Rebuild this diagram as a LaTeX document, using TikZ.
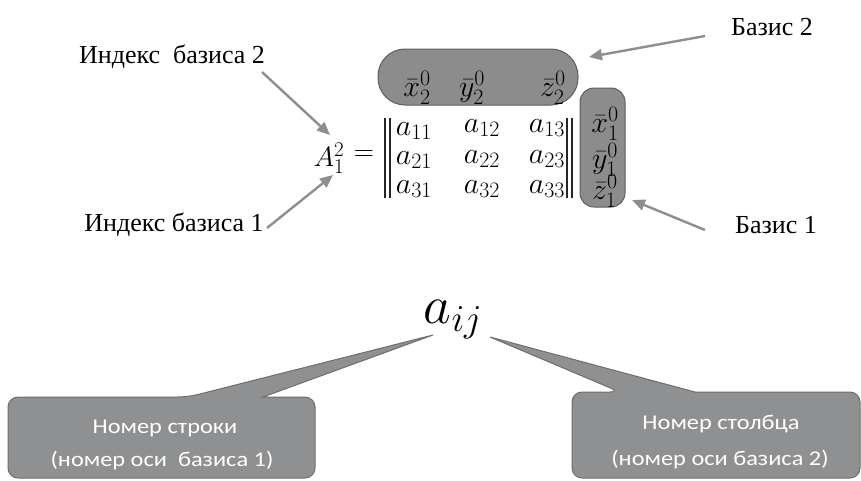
\RequirePackage{fix-cm}
\documentclass[tikz,border=0pt]{standalone}
\usepackage{fontspec}
\usepackage{graphicx}
\setmainfont{Liberation Serif}
\newfontfamily\callfont{Carlito}
\DeclareMathSizes{28}{28}{21}{16}
\DeclareMathSizes{30}{30}{22}{17}
\DeclareMathSizes{54}{54}{38}{28}
\usetikzlibrary{arrows.meta}
\definecolor{arrowgray}{HTML}{8E8E8E}
\definecolor{shapegray}{HTML}{8C8C8C}
\definecolor{shapeborder}{HTML}{5E5E5E}
\definecolor{callgray}{HTML}{8F9092}
\definecolor{callborder}{HTML}{6E6E6E}
\tikzset{
  lbl/.style={font=\fontsize{26}{28}\selectfont, inner sep=0pt},
  mth/.style={font=\fontsize{30}{32}\selectfont, inner sep=0pt},
  mthA/.style={font=\fontsize{28}{30}\selectfont, inner sep=0pt},
  garrow/.style={draw=arrowgray, line width=2.4pt, -{Triangle[length=13pt,width=11pt]}},
  basisbox/.style={fill=shapegray, draw=shapeborder, line width=1pt},
  callbox/.style={fill=callgray, draw=callborder, line width=1pt},
  calltext/.style={font=\callfont\fontsize{21}{23}\selectfont, text=white, inner sep=0pt},
  bar/.style={line width=1.2pt, draw=black!85}
}
\newcommand{\cstretch}[1]{\scalebox{1.16}[1]{#1}}
\begin{document}
\begin{tikzpicture}[x=1pt,y=-1pt]
\useasboundingbox (0,0) rectangle (861,480);
\fill[white] (0,0) rectangle (861,480);

% basis shapes
\draw[basisbox, rounded corners=27pt] (378,49) rectangle (578,105);
\draw[basisbox, rounded corners=14pt] (580,88) rectangle (625,207);

% top basis labels
\node[mth] (x2) at (417,88) {$\bar{x}_2^0$};
\node[mth] (y2) at (472,88) {$\bar{y}_2^0$};
\node[mth] (z2) at (553,88) {$\bar{z}_2^0$};
% right basis labels
\node[mth] (x1) at (605,124) {$\bar{x}_1^0$};
\node[mth] (y1) at (605,160) {$\bar{y}_1^0$};
\node[mth] (z1) at (605,191) {$\bar{z}_1^0$};

% A_1^2 =
\node[mthA] (A) at (329,158) {$A_1^2$};
\node[mthA] (eq) at (364,156) {$=$};

% bars
\draw[bar] (385,118) -- (385,198);
\draw[bar] (390,118) -- (390,198);
\draw[bar] (567,118) -- (567,198);
\draw[bar] (572,118) -- (572,198);

% matrix entries
\node[mth] (a11) at (414,131) {$a_{11}$};
\node[mth] (a12) at (482,128) {$a_{12}$};
\node[mth] (a13) at (547,128) {$a_{13}$};
\node[mth] (a21) at (414,160) {$a_{21}$};
\node[mth] (a22) at (482,159) {$a_{22}$};
\node[mth] (a23) at (547,159) {$a_{23}$};
\node[mth] (a31) at (414,189) {$a_{31}$};
\node[mth] (a32) at (482,189) {$a_{32}$};
\node[mth] (a33) at (547,189) {$a_{33}$};

% labels
\node[lbl] (ib2) at (172,57) {Индекс\ \ базиса 2};
\node[lbl] (ib1) at (174,225) {Индекс базиса 1};
\node[lbl] (b2) at (772,27) {Базис 2};
\node[lbl] (b1) at (776,225) {Базис 1};

% arrow endpoints
\coordinate (ib2s) at (262,72);
\coordinate (ib2e) at (330,135);
\coordinate (ib1s) at (267,228);
\coordinate (ib1e) at (333,175);
\coordinate (b2s) at (705,36);
\coordinate (b2e) at (589,57);
\coordinate (b1s) at (705,230);
\coordinate (b1e) at (632,200);
\draw[garrow] (ib2s) -- (ib2e);
\draw[garrow] (ib1s) -- (ib1e);
\draw[garrow] (b2s) -- (b2e);
\draw[garrow] (b1s) -- (b1e);

% a_ij
\node[font=\fontsize{54}{58}\selectfont, inner sep=0pt] (aij) at (453,320) {$a_{ij}$};
\coordinate (tipL) at (433,335);
\coordinate (tipR) at (490,337);

% callouts
\path[callbox] (188,397) [sharp corners] -- (tipL) -- (263,397)
  [rounded corners=10pt] -- (315,397) -- (315,478) -- (8,478) -- (8,397) -- cycle;
\path[callbox] (620,392) [sharp corners] -- (tipR) -- (695,392)
  [rounded corners=10pt] -- (860,392) -- (860,478) -- (572,478) -- (572,392) -- cycle;

\node[calltext] (c1a) at (165,428) {\cstretch{Номер строки}};
\node[calltext] (c1b) at (162,461) {\cstretch{(номер оси\ \ базиса 1)}};
\node[calltext] (c2a) at (721,424) {\cstretch{Номер столбца}};
\node[calltext] (c2b) at (720,460) {\cstretch{(номер оси базиса 2)}};
\end{tikzpicture}
\end{document}
